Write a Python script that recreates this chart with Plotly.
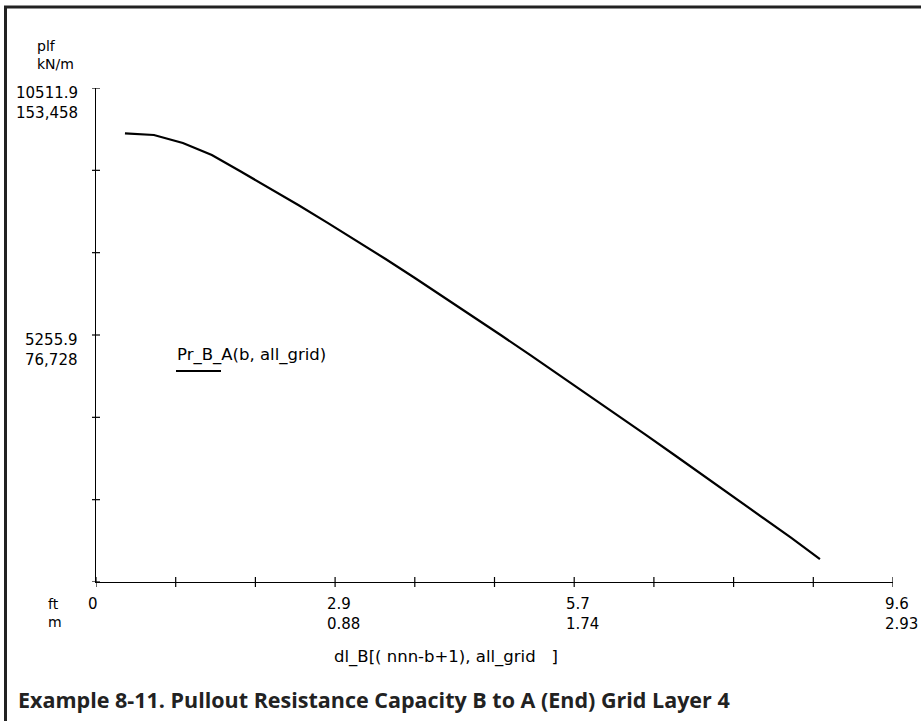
import plotly.graph_objects as go

# ---- data ----
step_ft = [0.3488 * k for k in range(1, 26)]
pullout = [9548, 9512, 9341, 9086, 8735, 8380, 8016, 7643, 7262, 6873,
           6475, 6071, 5660, 5245, 4828, 4407, 3981, 3554, 3124, 2692,
           2258, 1821, 1383, 943, 489]
series_name = "Pr_B_A(b, all_grid)"

x_max = 9.6
y_max = 10511.9
x_tick_vals = [0.96 * k for k in range(11)]
y_tick_vals = [y_max / 6 * k for k in range(7)]
x_label_vals = [0.0, 2.88, 5.76, 9.6]
x_label_ft = ["0", "2.9", "5.7", "9.6"]
x_label_m = ["", "0.88", "1.74", "2.93"]
y_label_vals = [y_max, y_max / 2]
y_label_plf = ["10511.9", "5255.9"]
y_label_kn = ["153,458", "76,728"]
x_title = "dl_B[(\u00a0nnn-b+1), all_grid\u00a0\u00a0\u00a0]"
caption = "Example 8-11. Pullout Resistance Capacity B to A (End) Grid Layer 4"

# ---- layout geometry (pixels) ----
W, H = 921, 721
L, R, T, B = 96, 28, 88, 139
PW, PH = W - L - R, H - T - B


def px(xp):
    return (xp - L) / PW


def py(yp):
    return (H - B - yp) / PH


FONT = "DejaVu Sans"
fs = 15

fig = go.Figure()
fig.add_trace(go.Scatter(x=step_ft, y=pullout, mode="lines",
                         line=dict(color="black", width=2.2),
                         name=series_name, showlegend=False))

shapes = []
# crossing tick marks (one ref is paper so they are not clipped to the plot area)
for v in x_tick_vals:
    shapes.append(dict(type="line", xref="x", x0=v, x1=v, yref="paper",
                       ysizemode="pixel", yanchor=0, y0=-5, y1=5,
                       line=dict(color="black", width=1.2)))
for v in y_tick_vals:
    shapes.append(dict(type="line", yref="y", y0=v, y1=v, xref="paper",
                       xsizemode="pixel", xanchor=0, x0=-4, x1=4,
                       line=dict(color="black", width=1.2)))
# legend sample line
shapes.append(dict(type="line", xref="paper", yref="paper",
                   x0=px(176), x1=px(221), y0=py(371), y1=py(371),
                   line=dict(color="black", width=2.2)))
# outer frame (top and left)
shapes.append(dict(type="line", xref="paper", yref="paper",
                   x0=px(4), x1=px(921), y0=py(7), y1=py(7),
                   line=dict(color="#222", width=3)))
shapes.append(dict(type="line", xref="paper", yref="paper",
                   x0=px(5.5), x1=px(5.5), y0=py(7), y1=py(721),
                   line=dict(color="#222", width=3)))

ann = []
for v, a, b in zip(x_label_vals, x_label_ft, x_label_m):
    ann.append(dict(x=v, xref="x", y=0, yref="paper", xanchor="left",
                    yanchor="top", xshift=-10, yshift=-11,
                    text=a + "<br>" + b if b else a, showarrow=False,
                    align="left", font=dict(family=FONT, size=fs, color="black")))
for v, a, b in zip(y_label_vals, y_label_plf, y_label_kn):
    ann.append(dict(x=0, xref="paper", y=v, yref="y", xanchor="right",
                    yanchor="top", xshift=-16, yshift=6,
                    text=a + "<br>" + b, showarrow=False, align="right",
                    font=dict(family=FONT, size=fs, color="black")))
ann.append(dict(x=px(35), xref="paper", y=py(36), yref="paper", xanchor="left",
                yanchor="top", text="plf<br>kN/m", showarrow=False, align="left",
                font=dict(family=FONT, size=fs - 1, color="black")))
ann.append(dict(x=px(46), xref="paper", y=py(594), yref="paper", xanchor="left",
                yanchor="top", text="ft<br>m", showarrow=False, align="left",
                font=dict(family=FONT, size=fs - 1, color="black")))
ann.append(dict(x=px(446), xref="paper", y=py(657), yref="paper", xanchor="center",
                yanchor="middle", text=x_title, showarrow=False,
                font=dict(family=FONT, size=16.5, color="black")))
ann.append(dict(x=px(175), xref="paper", y=py(355), yref="paper", xanchor="left",
                yanchor="middle", text=series_name, showarrow=False,
                font=dict(family=FONT, size=16.5, color="black")))
ann.append(dict(x=px(16), xref="paper", y=py(699), yref="paper", xanchor="left",
                yanchor="middle", text="<b>" + caption + "</b>", showarrow=False,
                font=dict(family="Open Sans", size=21.5, color="#222")))

fig.update_layout(
    width=W, height=H,
    margin=dict(l=L, r=R, t=T, b=B, pad=0),
    paper_bgcolor="white", plot_bgcolor="white",
    xaxis=dict(range=[0, x_max], showgrid=False, zeroline=False,
               showline=True, linecolor="black", linewidth=1.3,
               ticks="", showticklabels=False, tickvals=x_tick_vals),
    yaxis=dict(range=[0, y_max], showgrid=False, zeroline=False,
               showline=True, linecolor="black", linewidth=1.3,
               ticks="", showticklabels=False, tickvals=y_tick_vals),
    shapes=shapes, annotations=ann, showlegend=False,
)
fig.write_html("out.html", config={"displayModeBar": False},
               post_script="document.body.style.margin='0';document.body.style.overflow='hidden';")
